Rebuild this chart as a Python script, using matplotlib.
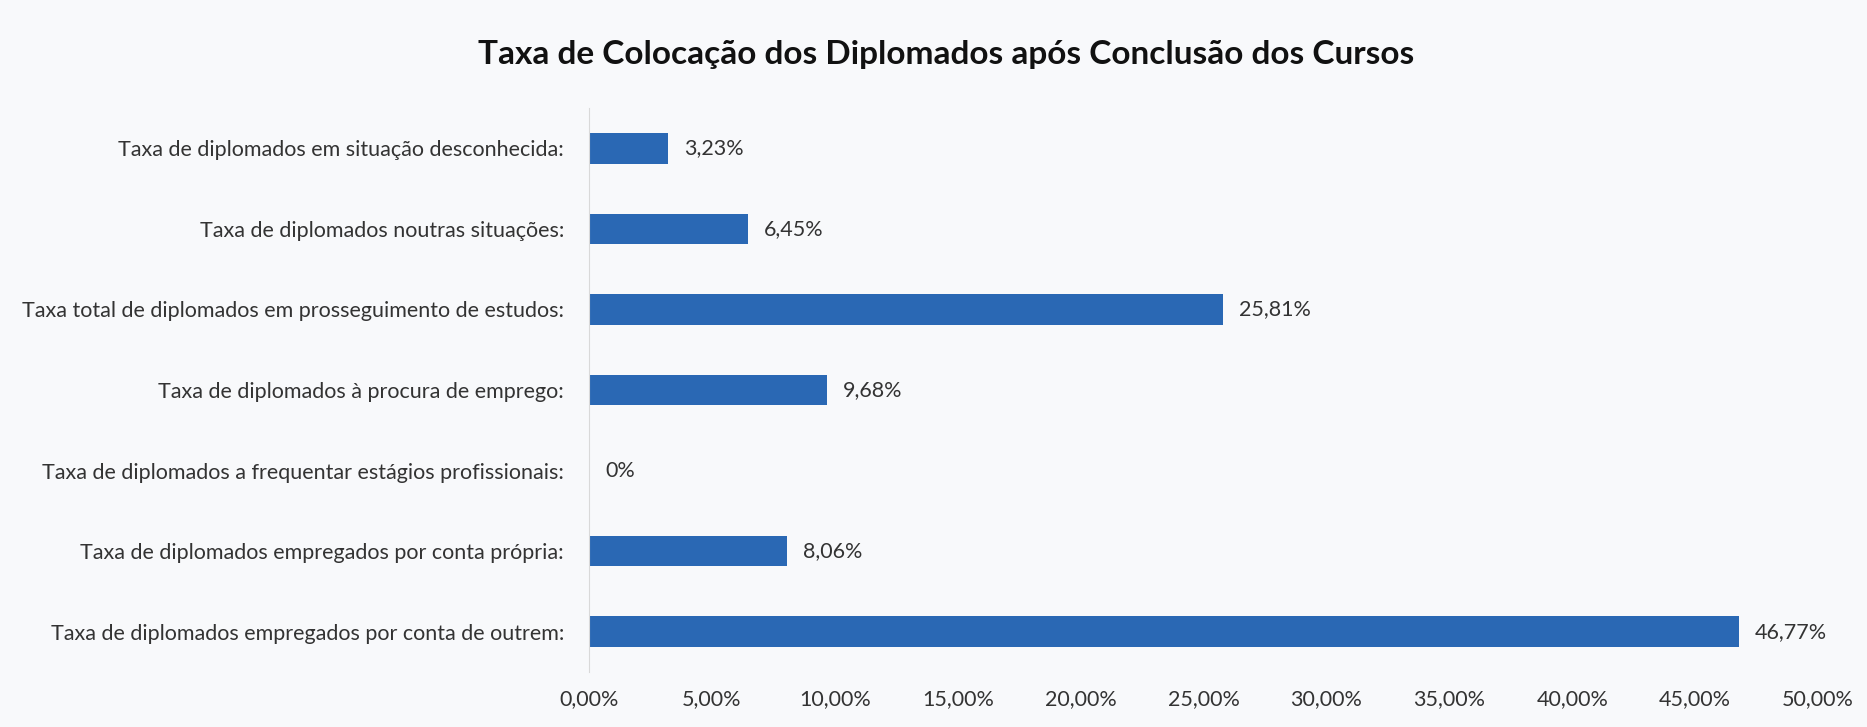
import matplotlib.pyplot as plt
from matplotlib.ticker import FuncFormatter

# ---- data (top to bottom as in the chart) ----
categories = [
    "Taxa de diplomados em situação desconhecida:",
    "Taxa de diplomados noutras situações:",
    "Taxa total de diplomados em prosseguimento de estudos:",
    "Taxa de diplomados à procura de emprego:",
    "Taxa de diplomados a frequentar estágios profissionais:",
    "Taxa de diplomados empregados por conta própria:",
    "Taxa de diplomados empregados por conta de outrem:",
]
values = [3.23, 6.45, 25.81, 9.68, 0.0, 8.06, 46.77]
value_labels = ["3,23%", "6,45%", "25,81%", "9,68%", "0%", "8,06%", "46,77%"]
title = "Taxa de Colocação dos Diplomados após Conclusão dos Cursos"

BG = '#f8f9fb'
BAR = '#2a68b4'
TXT = '#333333'

plt.rcParams['font.family'] = ['Lato', 'DejaVu Sans']

fig = plt.figure(figsize=(18.67, 7.27), dpi=100, facecolor=BG)
ax = fig.add_axes([0.3155, 0.0757, 0.6583, 0.7757])
ax.set_facecolor(BG)

ypos = list(range(len(categories)))
ax.barh(ypos, values, height=0.38, color=BAR)
for y, v, lab in zip(ypos, values, value_labels):
    ax.text(v + 0.65, y, lab, va='center', ha='left', fontsize=15.5, color=TXT)

ax.set_ylim(len(categories) - 0.5, -0.5)
ax.set_yticks(ypos)
ax.set_yticklabels(categories, fontsize=15.5, color=TXT)
ax.set_xlim(0, 50)
ax.set_xticks(range(0, 51, 5))
ax.xaxis.set_major_formatter(FuncFormatter(lambda x, p: f"{x:.2f}%".replace('.', ',')))
ax.tick_params(axis='x', labelsize=15.5, colors=TXT, length=0, pad=12)
ax.tick_params(axis='y', length=0, pad=18)

for s in ['top', 'right', 'bottom']:
    ax.spines[s].set_visible(False)
ax.spines['left'].set_color('#d9d9d9')

fig.text(0.507, 0.925, title, ha='center', va='center', fontsize=24, fontweight='bold', color='#111111')

fig.savefig('out.png', dpi=100, facecolor=BG)
